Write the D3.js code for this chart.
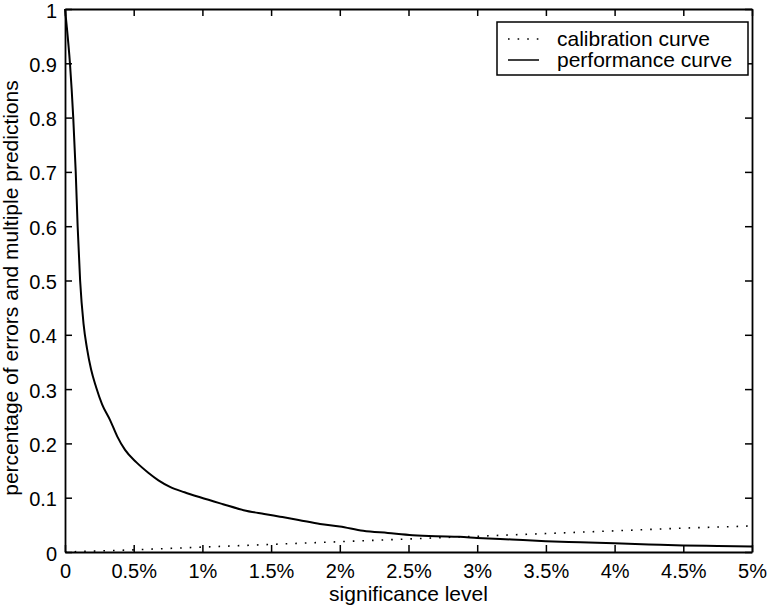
<!DOCTYPE html>
<html>
<head>
<meta charset="utf-8">
<script src="https://cdn.jsdelivr.net/npm/d3@7"></script>
<style>
  body { margin: 0; background: #fff; }
  svg text { font-family: "Liberation Sans", Arial, Helvetica, sans-serif; fill: #000; }
</style>
</head>
<body>
<div id="chart"></div>
<script>
// significance level in percent
const perfX = [0, 0.012, 0.036, 0.06, 0.078, 0.092, 0.11, 0.135, 0.16, 0.19, 0.226, 0.27, 0.328, 0.38, 0.437,
  0.52, 0.606, 0.68, 0.764, 0.87, 0.983, 1.15, 1.3, 1.45, 1.565, 1.7, 1.856, 2.0, 2.17, 2.35, 2.53, 2.7,
  2.87, 3.0, 3.25, 3.5, 3.75, 4.0, 4.25, 4.5, 4.75, 5.0];
const perfY = [1.0, 0.97, 0.9, 0.8, 0.7, 0.6, 0.5, 0.42, 0.375, 0.336, 0.304, 0.272, 0.243, 0.213, 0.188,
  0.165, 0.146, 0.132, 0.12, 0.11, 0.1007, 0.088, 0.077, 0.07, 0.065, 0.059, 0.0516, 0.047, 0.039, 0.035, 0.031, 0.029,
  0.028, 0.026, 0.023, 0.02, 0.018, 0.016, 0.014, 0.012, 0.011, 0.01];
const calibX = [0, 0.5, 1, 1.5, 2, 2.5, 3, 3.5, 4, 4.5, 5];
const calibY = [0, 0.004, 0.009, 0.014, 0.019, 0.024, 0.029, 0.034, 0.039, 0.044, 0.048];
const xTicks = [0, 0.5, 1, 1.5, 2, 2.5, 3, 3.5, 4, 4.5, 5];
const xTickLabels = ['0', '0.5%', '1%', '1.5%', '2%', '2.5%', '3%', '3.5%', '4%', '4.5%', '5%'];
const yTicks = [0, 0.1, 0.2, 0.3, 0.4, 0.5, 0.6, 0.7, 0.8, 0.9, 1];
const seriesNames = ['calibration curve', 'performance curve'];

const width = 768, height = 612;
const margin = {left: 65, right: 16, top: 9, bottom: 60};

const svg = d3.select('#chart').append('svg')
  .attr('width', width)
  .attr('height', height);

const x = d3.scaleLinear().domain([0, 5]).range([margin.left, width - margin.right]);
const y = d3.scaleLinear().domain([0, 1]).range([height - margin.bottom, margin.top]);

const tickLen = 7;
const fmtY = d => d3.format('~g')(d);

// axes (matlab style box with inward ticks on all sides)
svg.append('g')
  .attr('transform', `translate(0,${y(0)})`)
  .call(d3.axisBottom(x).tickValues(xTicks).tickSizeInner(-tickLen).tickSizeOuter(0).tickPadding(12)
    .tickFormat((d, i) => xTickLabels[i]));
svg.append('g')
  .attr('transform', `translate(0,${y(1)})`)
  .call(d3.axisTop(x).tickValues(xTicks).tickSizeInner(-tickLen).tickSizeOuter(0).tickFormat(''));
svg.append('g')
  .attr('class', 'yaxis')
  .attr('transform', `translate(${x(0)},0)`)
  .call(d3.axisLeft(y).tickValues(yTicks).tickSizeInner(-tickLen).tickSizeOuter(0).tickPadding(8).tickFormat(fmtY));
svg.append('g')
  .attr('transform', `translate(${x(5)},0)`)
  .call(d3.axisRight(y).tickValues(yTicks).tickSizeInner(-tickLen).tickSizeOuter(0).tickFormat(''));

svg.selectAll('.domain').attr('stroke', '#000').attr('stroke-width', 1.8);
svg.selectAll('.tick line').attr('stroke', '#000').attr('stroke-width', 1.5);
svg.selectAll('.tick text').style('font-size', '20px');
svg.selectAll('.yaxis .tick text').attr('dy', '0.4em');

// curves
const line = d3.line().x(d => x(d[0])).y(d => y(d[1]));

svg.append('path')
  .datum(calibX.map((v, i) => [v, calibY[i]]))
  .attr('d', line)
  .attr('fill', 'none')
  .attr('stroke', '#000')
  .attr('stroke-width', 1.6)
  .attr('stroke-dasharray', '1.6,8');

svg.append('path')
  .datum(perfX.map((v, i) => [v, perfY[i]]))
  .attr('d', line.curve(d3.curveMonotoneX))
  .attr('fill', 'none')
  .attr('stroke', '#000')
  .attr('stroke-width', 2);

// axis labels
svg.append('text')
  .attr('x', (x(0) + x(5)) / 2)
  .attr('y', 601)
  .attr('text-anchor', 'middle')
  .style('font-size', '21px')
  .text('significance level');

svg.append('text')
  .attr('transform', `translate(18,288) rotate(-90)`)
  .attr('text-anchor', 'middle')
  .style('font-size', '21px')
  .text('percentage of errors and multiple predictions');

// legend
const lg = svg.append('g').attr('transform', 'translate(497,22)');
lg.append('rect')
  .attr('width', 251).attr('height', 53)
  .attr('fill', '#fff').attr('stroke', '#000').attr('stroke-width', 1.5);
seriesNames.forEach((name, i) => {
  const ly = 17 + i * 21;
  lg.append('line')
    .attr('x1', 11).attr('x2', 42).attr('y1', ly).attr('y2', ly)
    .attr('stroke', '#000').attr('stroke-width', i === 0 ? 1.6 : 1.5)
    .attr('stroke-dasharray', i === 0 ? '1.6,8' : null);
  lg.append('text')
    .attr('x', 60).attr('y', ly + 7)
    .style('font-size', '21px')
    .text(name);
});
</script>
</body>
</html>
